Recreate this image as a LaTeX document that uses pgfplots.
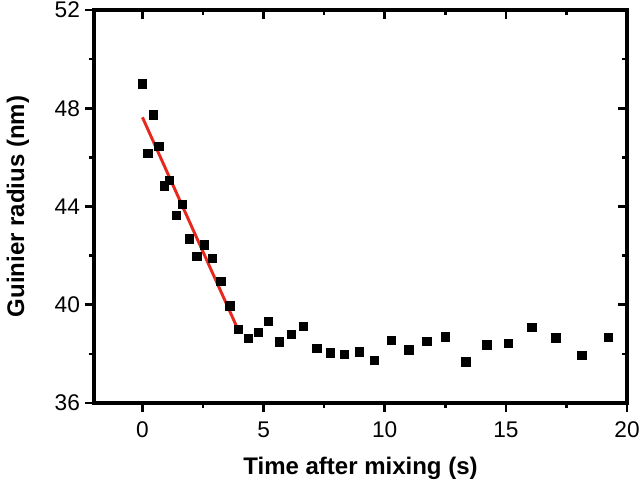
\documentclass[border=0pt]{standalone}
\usepackage{pgfplots}
\pgfplotsset{compat=1.18}
\usepackage{fontspec}
\setmainfont{Liberation Sans}
\definecolor{fitred}{RGB}{232,40,28}
\begin{document}
\begin{tikzpicture}
\pgfplotsset{
  common/.style={
    scale only axis,
    width=399.75pt, height=294.75pt,
    xmin=-2, xmax=20, ymin=36, ymax=52,
    xtick={0,5,10,15,20}, ytick={36,40,44,48,52},
    minor x tick num=1, minor y tick num=1,
    major tick length=6.5pt, minor tick length=4pt,
    every tick/.style={black, line width=2pt},
    /pgf/number format/assume math mode=true,
    tick label style={font=\fontsize{17}{20}\selectfont},
  }
}
\begin{axis}[common,
  tick align=outside,
  xtick pos=bottom, ytick pos=left,
  xticklabel style={yshift=-4pt},
  yticklabel style={xshift=-0.5pt},
  xlabel={Time after mixing (s)},
  ylabel={Guinier radius (nm)},
  every axis x label/.style={at={(axis description cs:0.5,0)}, anchor=center, yshift=-49pt, font=\fontsize{18}{21}\selectfont\bfseries},
  every axis y label/.style={at={(axis description cs:-0.1426,0.5)}, rotate=90, anchor=center, font=\fontsize{18}{21}\selectfont\bfseries},
  clip=false,
]
\addplot[only marks, mark=square*, mark size=3.1pt, mark options={fill=black, draw=black, line width=0.3pt}] coordinates {
(0,49.0)
(0.22,46.16)
(0.43,47.74)
(0.67,46.44)
(0.89,44.85)
(1.11,45.08)
(1.38,43.64)
(1.65,44.10)
(1.93,42.69)
(2.24,41.98)
(2.56,42.44)
(2.87,41.89)
(3.23,40.97)
(3.60,39.96)
(3.94,39.01)
(4.35,38.65)
(4.77,38.89)
(5.20,39.34)
(5.65,38.50)
(6.13,38.80)
(6.64,39.13)
(7.19,38.23)
(7.74,38.05)
(8.33,37.98)
(8.94,38.09)
(9.58,37.75)
(10.27,38.56)
(10.99,38.17)
(11.73,38.52)
(12.51,38.70)
(13.34,37.68)
(14.21,38.37)
(15.11,38.43)
(16.07,39.09)
(17.06,38.66)
(18.13,37.95)
(19.23,38.67)
};
\addplot[fitred, line width=2.2pt] coordinates {(0,47.63) (3.94,39.0)};
\end{axis}
\begin{axis}[common,
  tick align=inside,
  xtick pos=top, ytick pos=right,
  xticklabel=\empty, yticklabel=\empty,
  axis line style={draw=none},
  after end axis/.code={\draw[black, line width=2.8pt, line join=miter, line cap=rect] (rel axis cs:0,0) -- (rel axis cs:1,0) -- (rel axis cs:1,1) -- (rel axis cs:0,1) -- cycle;},
]
\end{axis}
\pgfresetboundingbox
\path[use as bounding box] ([shift={(-70.5pt,-61.5pt)}]current axis.south west) rectangle ([shift={(9.75pt,7.5pt)}]current axis.north east);
\end{tikzpicture}
\end{document}
